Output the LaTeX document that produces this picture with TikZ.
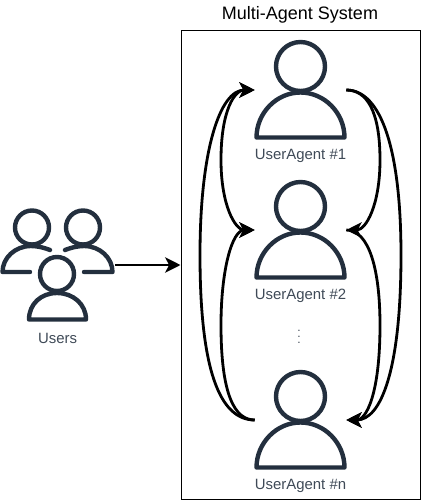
\documentclass[tikz,border=0pt]{standalone}
\usepackage{fontspec}
\setmainfont{Liberation Sans}
\usetikzlibrary{arrows.meta}
\definecolor{ink}{HTML}{232F3E}
\definecolor{labelc}{HTML}{3F4A57}
\tikzset{
  icon/.style={draw=none,fill=none,inner sep=0pt,minimum width=68.25pt,minimum height=75pt},
  iconline/.style={draw=ink,line width=3.3pt,line join=round,line cap=round},
  lab/.style={text=labelc,font=\fontsize{11.2pt}{13pt}\selectfont,inner sep=0pt,anchor=center},
  flow/.style={draw=black,line width=2.1pt,-{Stealth[length=11.5pt,width=11.5pt,inset=3pt]}},
  flowboth/.style={draw=black,line width=2.1pt,{Stealth[length=11.5pt,width=11.5pt,inset=3pt]}-{Stealth[length=11.5pt,width=11.5pt,inset=3pt]}},
  person/.pic={
    \draw[iconline] (0,-23.5) circle[radius=24.5];
    \draw[iconline] (-44,47.5) .. controls (-44,23) and (-24,2.5) .. (0,2.5)
      .. controls (24,2.5) and (44,23) .. (44,47.5) -- cycle;
  }
}
\begin{document}
\begin{tikzpicture}[x=0.75pt,y=-0.75pt]
\useasboundingbox (0,0) rectangle (421,501);
\node[draw=black,line width=0.75pt,minimum width=179.25pt,minimum height=351.75pt,inner sep=0pt] (sys) at (300.5,265) {};
\node[font=\fontsize{13.5pt}{16pt}\selectfont,text=black,inner sep=0pt] (title) at (300,15) {Multi-Agent System};
% agents
\node[icon] (a1) at (300.5,90) {};
\node[icon] (a2) at (300.5,230) {};
\node[icon] (an) at (300.5,420) {};
\pic at (a1) {person};
\pic at (a2) {person};
\pic at (an) {person};
\node[lab] (l1) at (300.5,156) {UserAgent \#1};
\node[lab] (l2) at (300.5,296) {UserAgent \#2};
\node[lab] (ln) at (300.5,486) {UserAgent \#n};
\node[lab,align=center,font=\fontsize{9pt}{4.5pt}\selectfont] (dots) at (299,337) {.\\.\\.};
% users icon
\node[icon,minimum width=86.25pt,minimum height=87pt] (users) at (57.5,265) {};
\draw[iconline] (32,227.5) circle[radius=17];
\draw[iconline] (83,227.5) circle[radius=17];
\draw[iconline] (57,274) circle[radius=17];
\draw[iconline] (30,272) -- (2.5,272) .. controls (2.5,258) and (15,246) .. (31,246) .. controls (38,246) and (45,248) .. (50,250);
\draw[iconline] (84,272) -- (112.5,272) .. controls (112.5,258) and (100,246) .. (84,246) .. controls (77,246) and (70,248) .. (65,250);
\draw[iconline] (29,319.5) .. controls (29,304) and (41,293) .. (57,293) .. controls (73,293) and (86,304) .. (86,319.5) -- cycle;
\node[lab] (ulab) at (57.5,338) {Users};
% connectors
\draw[flow] (users.east) -- (sys.west |- users.east);
\draw[flow] (an.west) .. controls +(-35,0) and (200,370) .. (200,255) .. controls (200,150) and (220,90) .. (a1.west);
\draw[flow] (an.west) .. controls +(-20,0) and (221,395) .. (221,325) .. controls (221,270) and (232,230) .. (a2.west);
\draw[flowboth] (a1.west) .. controls +(-20,0) and (221,110) .. (221,160) .. controls (221,205) and (235,230) .. (a2.west);
\draw[flow] (a1.east) .. controls +(35,0) and (401,150) .. (401,255) .. controls (401,370) and (381,420) .. (an.east);
\draw[flow] (a2.east) .. controls +(23,0) and (380,270) .. (380,325) .. controls (380,395) and (366,420) .. (an.east);
\draw[flow] (a1.east) .. controls +(20,0) and (380,110) .. (380,160) .. controls (380,205) and (366,230) .. (a2.east);
\end{tikzpicture}
\end{document}
